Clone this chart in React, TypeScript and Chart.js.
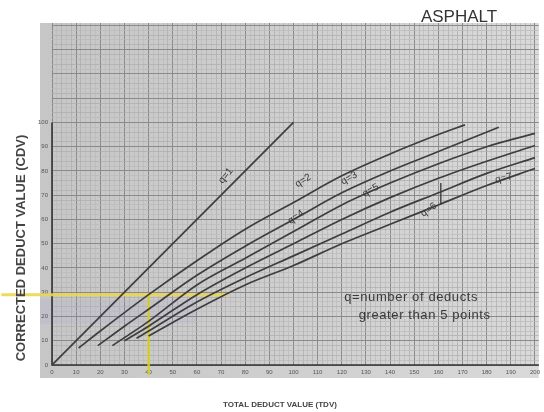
import React, { useEffect, useRef } from 'react';
import { Chart, registerables } from 'chart.js';

Chart.register(...registerables);

// ---- data ----
const tdvQ1 = [0, 100];
const cdvQ1 = [0, 100];
const tdvQ2 = [11, 20, 40, 60, 80, 100, 120, 140, 160, 171];
const cdvQ2 = [7, 14, 29, 43, 56, 67, 78, 87, 95, 99];
const tdvQ3 = [19, 30, 40, 60, 80, 100, 120, 140, 160, 185];
const cdvQ3 = [8, 16, 23, 37, 49, 60, 71, 80, 88, 98];
const tdvQ4 = [25, 40, 60, 80, 100, 120, 140, 160, 180, 200];
const cdvQ4 = [8, 18, 33, 44, 55, 66, 75, 83, 90, 95.5];
const tdvQ5 = [30, 40, 60, 80, 100, 120, 140, 160, 180, 200];
const cdvQ5 = [10, 16, 29, 40, 50, 60, 69, 77, 84, 90.5];
const tdvQ6 = [35, 40, 60, 80, 100, 120, 140, 160, 180, 200];
const cdvQ6 = [11, 14, 26, 36, 45, 54, 63, 71, 79, 85.5];
const tdvQ7 = [40, 60, 80, 100, 120, 140, 160, 180, 200];
const cdvQ7 = [12, 23, 33, 41, 50, 58, 66, 74, 81];

const markTdv = [161, 161];
const markCdv = [66, 75];

// yellow reading lines (TDV 40 -> CDV 29)
const readTdv = 40;
const readCdv = 29;
const readHorizTdv = [-21, 73];
const readVertCdv = [-4, 29];

const xTicks = [0, 10, 20, 30, 40, 50, 60, 70, 80, 90, 100, 110, 120, 130, 140, 150, 160, 170, 180, 190, 200];
const yTicks = [0, 10, 20, 30, 40, 50, 60, 70, 80, 90, 100];

const curveLabelText = ['q=1', 'q=2', 'q=3', 'q=4', 'q=5', 'q=6', 'q=7'];
const curveLabelTdv = [72, 104, 123, 101, 132, 156, 187];
const curveLabelCdv = [78, 76, 77, 61, 72, 64, 77];
const curveLabelAngle = [-50, -32, -30, -35, -30, -35, -15];

const noteLines = ['q=number of deducts', 'greater than 5 points'];
const noteTdv = [121, 127];
const noteCdv = [28, 20.6];

const titleText = 'ASPHALT';
const xTitle = 'TOTAL DEDUCT VALUE (TDV)';
const yTitle = 'CORRECTED DEDUCT VALUE (CDV)';

const pts = (xs: number[], ys: number[]) => xs.map((x, i) => ({ x, y: ys[i] }));

export default function App() {
  const ref = useRef<HTMLCanvasElement | null>(null);

  useEffect(() => {
    document.body.style.margin = '0';
    const canvas = ref.current;
    if (!canvas) return;

    const curveStyle = {
      borderColor: '#3e3e3e',
      borderWidth: 1.7,
      pointRadius: 0,
      cubicInterpolationMode: 'monotone' as const,
      fill: false,
    };

    const paper = {
      id: 'paper',
      beforeDraw(chart: any) {
        const { ctx, chartArea, scales } = chart;
        ctx.save();
        ctx.fillStyle = '#ffffff';
        ctx.fillRect(0, 0, chart.width, chart.height);
        const g = ctx.createLinearGradient(chartArea.left - 12, 0, chartArea.right, 0);
        g.addColorStop(0, '#c6c6c6');
        g.addColorStop(0.5, '#cfcfcf');
        g.addColorStop(1, '#d9d9d9');
        ctx.fillStyle = g;
        ctx.fillRect(chartArea.left - 12, chartArea.top, chartArea.right - chartArea.left + 12, chartArea.bottom - chartArea.top + 13);
        // faint lavender scan tint near the reading line
        const xs = scales.x, ys = scales.y;
        ctx.fillStyle = 'rgba(170,160,220,0.18)';
        ctx.fillRect(chartArea.left - 12, ys.getPixelForValue(27), xs.getPixelForValue(60) - chartArea.left + 12, ys.getPixelForValue(17) - ys.getPixelForValue(27));
        ctx.restore();
      },
      beforeDatasetsDraw(chart: any) {
        const { ctx, scales } = chart;
        const xs = scales.x, ys = scales.y;
        ctx.save();
        ctx.strokeStyle = '#333333';
        ctx.lineWidth = 1.6;
        ctx.beginPath();
        ctx.moveTo(xs.getPixelForValue(0), ys.getPixelForValue(100));
        ctx.lineTo(xs.getPixelForValue(0), ys.getPixelForValue(0));
        ctx.lineTo(chart.chartArea.right, ys.getPixelForValue(0));
        ctx.stroke();
        ctx.restore();
      },
      afterDraw(chart: any) {
        const { ctx, scales } = chart;
        const xs = scales.x, ys = scales.y;
        ctx.save();
        ctx.fillStyle = '#3a3a3a';
        ctx.textAlign = 'center';
        ctx.textBaseline = 'middle';
        ctx.font = '10px "Liberation Sans", Arial, sans-serif';
        curveLabelText.forEach((t, i) => {
          ctx.save();
          ctx.translate(xs.getPixelForValue(curveLabelTdv[i]), ys.getPixelForValue(curveLabelCdv[i]));
          ctx.rotate((curveLabelAngle[i] * Math.PI) / 180);
          ctx.fillText(t, 0, 0);
          ctx.restore();
        });
        ctx.font = '13px "Liberation Sans", Arial, sans-serif';
        (ctx as any).letterSpacing = '0.6px';
        ctx.textAlign = 'left';
        noteLines.forEach((t, i) => {
          ctx.fillText(t, xs.getPixelForValue(noteTdv[i]), ys.getPixelForValue(noteCdv[i]));
        });
        (ctx as any).letterSpacing = '0px';
        // titles
        ctx.fillStyle = '#333333';
        ctx.textAlign = 'center';
        ctx.font = '17px "Liberation Sans", Arial, sans-serif';
        ctx.fillText(titleText, 459, 17);
        ctx.fillStyle = '#444444';
        ctx.font = 'bold 8px "Liberation Sans", Arial, sans-serif';
        ctx.fillText(xTitle, 280, 405);
        ctx.save();
        ctx.translate(21, 248);
        ctx.rotate(-Math.PI / 2);
        ctx.font = 'bold 13px "Liberation Sans", Arial, sans-serif';
        ctx.fillText(yTitle, 0, 0);
        ctx.restore();
        ctx.restore();
      },
    };

    const minorTicks = (from: number, to: number) => {
      const arr: { value: number }[] = [];
      for (let v = from; v <= to; v += 2) arr.push({ value: v });
      return arr;
    };

    const gridColor = (ctx: any) => {
      const v = ctx.tick ? ctx.tick.value : 1;
      if (v % 10 === 0) return '#8a8a8a';
      if (v % 4 === 0) return '#acacac';
      return '#bababa';
    };
    const gridWidth = (ctx: any) => (ctx.tick && ctx.tick.value % 10 === 0 ? 1 : 0.7);

    const chart = new Chart(canvas, {
      type: 'line',
      data: {
        datasets: [
          { data: pts(tdvQ1, cdvQ1), ...curveStyle, cubicInterpolationMode: 'default', tension: 0 },
          { data: pts(tdvQ2, cdvQ2), ...curveStyle },
          { data: pts(tdvQ3, cdvQ3), ...curveStyle },
          { data: pts(tdvQ4, cdvQ4), ...curveStyle },
          { data: pts(tdvQ5, cdvQ5), ...curveStyle },
          { data: pts(tdvQ6, cdvQ6), ...curveStyle },
          { data: pts(tdvQ7, cdvQ7), ...curveStyle },
          { data: pts(markTdv, markCdv), ...curveStyle, borderWidth: 1.4 },
          {
            data: pts(readHorizTdv, [readCdv, readCdv]),
            borderColor: 'rgba(236,214,80,0.9)',
            borderWidth: 3,
            pointRadius: 0,
            clip: false,
          },
          {
            data: pts([readTdv, readTdv], readVertCdv),
            borderColor: 'rgba(215,205,40,0.95)',
            borderWidth: 2.5,
            pointRadius: 0,
            clip: false,
          },
        ] as any,
      },
      options: {
        animation: false,
        responsive: false,
        devicePixelRatio: 1,
        layout: { padding: { top: 23, right: 0, left: 0, bottom: 0 } },
        plugins: { legend: { display: false }, tooltip: { enabled: false } },
        scales: {
          x: {
            type: 'linear',
            min: 0,
            max: 201.6,
            afterBuildTicks: (s: any) => { s.ticks = minorTicks(0, 200); },
            afterFit: (s: any) => { s.height = 47; },
            border: { display: false },
            grid: { color: gridColor, lineWidth: gridWidth, drawTicks: false },
            ticks: {
              autoSkip: false,
              maxRotation: 0,
              padding: 4,
              color: '#555555',
              font: { size: 6, family: '"Liberation Sans", Arial, sans-serif' },
              callback: (v: any) => (xTicks.includes(v) ? String(v) : ''),
            },
          },
          y: {
            type: 'linear',
            min: 0,
            max: 141,
            afterBuildTicks: (s: any) => { s.ticks = minorTicks(0, 140); },
            afterFit: (s: any) => { s.width = 52; },
            border: { display: false },
            grid: { color: gridColor, lineWidth: gridWidth, drawTicks: false },
            ticks: {
              autoSkip: false,
              padding: 4,
              color: '#555555',
              font: { size: 6, family: '"Liberation Sans", Arial, sans-serif' },
              callback: (v: any) => (yTicks.includes(v) ? String(v) : ''),
            },
          },
        },
      },
      plugins: [paper],
    });

    return () => chart.destroy();
  }, []);

  return (
    <div style={{ width: 544, height: 412 }}>
      <canvas ref={ref} width={544} height={412} style={{ display: 'block' }} />
    </div>
  );
}
